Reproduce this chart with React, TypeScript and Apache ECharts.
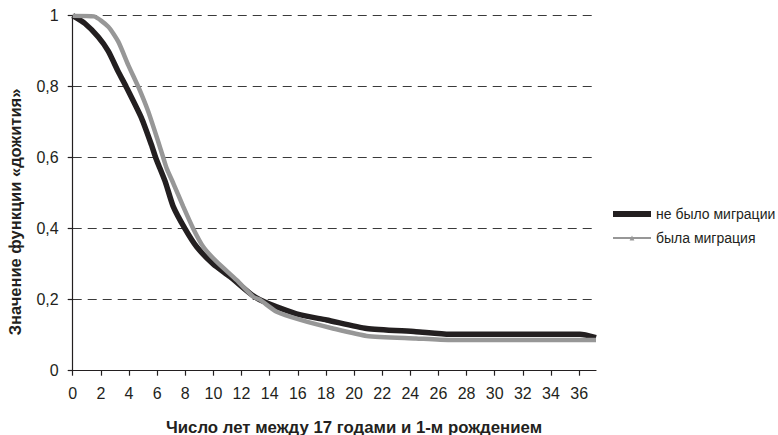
import React, { useEffect, useRef } from "react";
import * as echarts from "echarts";

const FONT = '"Liberation Sans", Arial, sans-serif';

const seriesNames = ["не было миграции", "была миграция"];

const noMigYears = [0, 0.87, 1.82, 2.53, 3.24, 3.8, 4.9, 5.6, 5.9, 6.2, 6.6, 7.15, 7.98, 8.81, 10, 11.18, 12.6, 13.3, 14.5, 16.2, 18.05, 20.9, 24.4, 26.8, 36.06, 37.2];
const noMigValues = [1, 0.978, 0.94, 0.9, 0.842, 0.8, 0.711, 0.636, 0.6, 0.57, 0.53, 0.462, 0.4, 0.349, 0.3, 0.265, 0.218, 0.2, 0.18, 0.157, 0.143, 0.119, 0.11, 0.1025, 0.1025, 0.093];

const migYears = [0, 1.5, 2.53, 3.24, 3.95, 4.66, 5.37, 6.08, 6.44, 6.68, 7.15, 7.86, 8.57, 9.28, 10.23, 11.66, 12.84, 13.3, 14.5, 16.2, 18.5, 20.9, 24.4, 26.8, 37.2];
const migValues = [1, 0.998, 0.969, 0.927, 0.861, 0.8, 0.73, 0.645, 0.6, 0.57, 0.528, 0.462, 0.4, 0.349, 0.307, 0.255, 0.208, 0.2, 0.166, 0.143, 0.119, 0.098, 0.091, 0.0865, 0.0865];

const xTicks = [0, 2, 4, 6, 8, 10, 12, 14, 16, 18, 20, 22, 24, 26, 28, 30, 32, 34, 36];
const xMax = 37.2;

const xTitle = "Число лет между 17 годами и 1-м рождением";
const yTitle = "Значение функции «дожития»";

export default function App() {
  const ref = useRef<HTMLDivElement>(null);
  useEffect(() => {
    document.body.style.margin = "0";
    if (!ref.current) return;
    const chart = echarts.init(ref.current, null, { renderer: "svg" });
    chart.setOption({
      animation: false,
      backgroundColor: "#ffffff",
      textStyle: { fontFamily: FONT },
      grid: { left: 72.7, right: 182, top: 15.7, bottom: 64.3, containLabel: false },
      legend: {
        orient: "vertical",
        left: 607,
        top: 202,
        itemWidth: 38,
        itemHeight: 6,
        itemGap: 10,
        textStyle: { fontFamily: FONT, fontSize: 14, color: "#231f20" },
        data: [
          { name: seriesNames[0], icon: "rect", itemStyle: { color: "#231f20" } },
          { name: seriesNames[1], lineStyle: { width: 2 } },
        ],
      },
      graphic: [
        {
          type: "text",
          x: 354,
          y: 427,
          style: {
            text: xTitle,
            align: "center",
            verticalAlign: "middle",
            font: `bold 16.8px ${FONT}`,
            fill: "#231f20",
          },
        },
        {
          type: "text",
          x: 15,
          y: 212,
          rotation: Math.PI / 2,
          style: {
            text: yTitle,
            align: "center",
            verticalAlign: "middle",
            font: `bold 16.5px ${FONT}`,
            fill: "#231f20",
          },
        },
      ],
      xAxis: {
        type: "value",
        min: 0,
        max: xMax,
        interval: 2,
        axisLine: { show: true, lineStyle: { color: "#231f20", width: 1.2 } },
        axisTick: { show: true, length: 5, inside: false, customValues: xTicks, lineStyle: { color: "#231f20", width: 1.2 } },
        axisLabel: { customValues: xTicks, fontFamily: FONT, fontSize: 16, color: "#231f20", margin: 15 },
        splitLine: { show: false },
      },
      yAxis: {
        type: "value",
        min: 0,
        max: 1,
        interval: 0.2,
        axisLine: { show: true, lineStyle: { color: "#231f20", width: 1.2 } },
        axisTick: { show: true, length: 5, lineStyle: { color: "#231f20", width: 1.2 } },
        axisLabel: {
          fontFamily: FONT,
          fontSize: 16,
          color: "#231f20",
          margin: 14,
          formatter: (v: number) => (v === 0 ? "0" : v === 1 ? "1" : v.toFixed(1).replace(".", ",")),
        },
        splitLine: { show: true, lineStyle: { color: "#3a3a3a", width: 1.2, type: [9, 6] } },
      },
      series: [
        {
          name: seriesNames[0],
          type: "line",
          data: noMigYears.map((x, i) => [x, noMigValues[i]]),
          showSymbol: false,
          symbol: "none",
          smooth: 0.2,
          lineStyle: { color: "#231f20", width: 5.5 },
          itemStyle: { color: "#231f20" },
          z: 2,
        },
        {
          name: seriesNames[1],
          type: "line",
          data: migYears.map((x, i) => [x, migValues[i]]),
          showSymbol: false,
          symbol: "triangle",
          symbolSize: 7,
          smooth: 0.2,
          lineStyle: { color: "#979797", width: 4.5 },
          itemStyle: { color: "#979797" },
          z: 3,
        },
      ],
    });
    return () => chart.dispose();
  }, []);
  return <div ref={ref} style={{ width: 778, height: 435 }} />;
}
